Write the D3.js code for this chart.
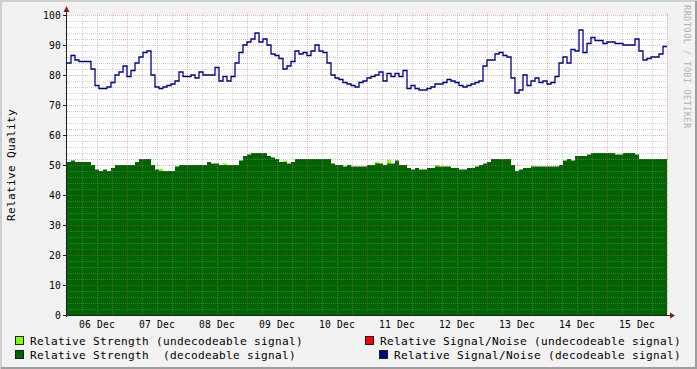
<!DOCTYPE html>
<html>
<head>
<meta charset="utf-8">
<script src="https://d3js.org/d3.v7.min.js"></script>
<style>
  body { margin: 0; background: #f2f2f2; }
  svg { display: block; }
  text { font-family: "DejaVu Sans Mono", monospace; white-space: pre; }
</style>
</head>
<body>
<svg id="chart" width="697" height="369"></svg>
<script>
// tick labels
const dayLabels = ["06 Dec", "07 Dec", "08 Dec", "09 Dec", "10 Dec", "11 Dec", "12 Dec", "13 Dec", "14 Dec", "15 Dec"];
const yTicks = [0, 10, 20, 30, 40, 50, 60, 70, 80, 90, 100];

// relative signal/noise (decodeable), 150 samples over 10 days
const snrDecodeable = [
  84, 86.5, 85, 84.5, 84.5, 84.5, 82, 76.5, 75.5, 75.5, 76, 77.5, 80, 81, 83,
  79.5, 81.5, 84, 86, 87.5, 88, 80, 76, 75.5, 76, 76.5, 77, 78, 81, 79.5,
  79.5, 80, 79, 81, 80, 80, 80, 82.5, 78, 79.5, 78, 79.5, 84, 87.5, 90,
  91, 92, 94, 91, 92, 90, 87, 86.5, 85.5, 82, 83, 84.5, 88, 87, 87.5,
  86.5, 88, 90, 88, 87.5, 84, 80, 79, 78.5, 77.5, 77, 76.5, 76, 77.5, 78,
  79, 79.5, 80, 81, 78, 80.5, 79.5, 80.5, 79.5, 81.5, 75.5, 76.5, 75.5, 75, 75,
  75.5, 76, 77, 77, 77.5, 78.5, 78, 77.5, 76.5, 76, 76.5, 77, 77.5, 78, 83,
  85, 85, 87, 87.5, 86.5, 86, 79, 74, 75, 80, 76.5, 78, 79, 77.5, 78,
  77, 77.5, 79.5, 84, 86, 84, 88.5, 88, 95, 87.5, 90.5, 92.5, 91.5, 91.5, 90.5,
  91, 91, 90.5, 90.5, 90, 90, 90, 92, 88, 85, 85.5, 86, 86, 87, 89.5
];

// relative strength (decodeable)
const strengthDecodeable = [
  51, 51.5, 51, 51, 51, 51, 50, 48.5, 48, 48.5, 48, 49, 50, 50, 50,
  50, 50, 51, 52, 52, 52, 50, 48.5, 48, 48, 48, 48, 49.5, 50, 50,
  50, 50, 50, 50, 50, 51, 50.5, 50.5, 50, 50, 50, 50, 50, 51.5, 53,
  53.5, 54, 54, 54, 54, 53, 52.5, 52, 51, 51, 50.5, 51, 52, 52, 52,
  52, 52, 52, 52, 52, 52, 50.5, 50, 50, 49.5, 50, 49.5, 49.5, 49.5, 49.5,
  50, 50, 50.5, 50.5, 50, 50.5, 50.5, 51.5, 50, 50, 49, 48.5, 49, 48.5, 48.5,
  49, 49, 49.5, 49.5, 49.5, 49.5, 49, 49, 48.5, 48.5, 49, 49, 49.5, 50, 50.5,
  51, 52, 52, 52, 52, 52, 50, 48, 48.5, 49, 49, 49.5, 49.5, 49.5, 49.5,
  49.5, 49.5, 49.5, 50, 51.5, 52, 51.5, 53, 53, 53, 53.5, 54, 54, 54, 54,
  54, 54, 53.5, 53.5, 54, 54, 54, 53.5, 52, 52, 52, 52, 52, 52, 52
];

// relative strength (undecodeable): [sample index, value], only the few samples that show
const strengthUndecodeable = [
  [23, 48.7], [39, 50.5], [54, 51.5], [77, 51], [80, 51.8], [87, 49], [92, 50], [100, 49]
];

const legendLeft = [
  { label: "Relative Strength (undecodeable signal)", color: "#7fff00" },
  { label: "Relative Strength  (decodeable signal)", color: "#006400" }
];
const legendRight = [
  { label: "Relative Signal/Noise (undecodeable signal)", color: "#ff0000" },
  { label: "Relative Signal/Noise (decodeable signal)", color: "#000090" }
];

const W = 697, H = 369;
const plot = { left: 67, right: 667, top: 15, bottom: 315 };
const hours = 240;
const step = hours / snrDecodeable.length;

const x = d3.scaleLinear().domain([0, hours]).range([plot.left, plot.right]);
const y = d3.scaleLinear().domain([0, 100]).range([plot.bottom, plot.top]);

const svg = d3.select("#chart");

// background + 3d frame
svg.append("rect").attr("width", W).attr("height", H).attr("fill", "#f2f2f2");
svg.append("path").attr("d", `M0,${H} V0 H${W}`).attr("fill", "none")
  .attr("stroke", "#cfcfcf").attr("stroke-width", 2).attr("transform", "translate(1,1)");
svg.append("path").attr("d", `M1,${H - 1} H${W - 1} V1`).attr("fill", "none")
  .attr("stroke", "#9e9e9e").attr("stroke-width", 2);

// canvas
svg.append("rect")
  .attr("x", plot.left).attr("y", plot.top)
  .attr("width", plot.right - plot.left).attr("height", plot.bottom - plot.top)
  .attr("fill", "#ffffff");

// data as steps
const pts = arr => arr.map((v, i) => [i * step, v]).concat([[hours, arr[arr.length - 1]]]);

svg.append("g").selectAll("rect").data(strengthUndecodeable).join("rect")
  .attr("x", d => x(d[0] * step))
  .attr("width", d => x((d[0] + 1) * step) - x(d[0] * step))
  .attr("y", d => y(d[1]))
  .attr("height", d => y(0) - y(d[1]))
  .attr("fill", "#7fff00");

const area = d3.area().curve(d3.curveStepAfter)
  .x(d => x(d[0])).y0(y(0)).y1(d => y(d[1]));
svg.append("path").datum(pts(strengthDecodeable))
  .attr("d", area).attr("fill", "#006400");

// grid
const grid = svg.append("g").attr("shape-rendering", "crispEdges");
const minorH = d3.range(0, 101, 2).filter(v => v % 10 !== 0);
const minorV = d3.range(0, hours + 1, 6).filter(h => h % 24 !== 0);
const majorV = d3.range(24, hours + 1, 24);
const minorCol = "rgba(143,143,143,0.42)", majorCol = "rgba(222,79,79,0.42)";

grid.selectAll(".mh").data(minorH).join("line")
  .attr("x1", plot.left - 2).attr("x2", plot.right + 2)
  .attr("y1", d => Math.round(y(d)) + 0.5).attr("y2", d => Math.round(y(d)) + 0.5)
  .attr("stroke", minorCol).attr("stroke-dasharray", "1,1");
grid.selectAll(".mv").data(minorV).join("line")
  .attr("y1", plot.top - 2).attr("y2", plot.bottom + 2)
  .attr("x1", d => Math.round(x(d)) + 0.5).attr("x2", d => Math.round(x(d)) + 0.5)
  .attr("stroke", minorCol).attr("stroke-dasharray", "1,1");
grid.selectAll(".Mh").data(yTicks.filter(v => v > 0)).join("line")
  .attr("x1", plot.left - 2).attr("x2", plot.right + 2)
  .attr("y1", d => Math.round(y(d)) + 0.5).attr("y2", d => Math.round(y(d)) + 0.5)
  .attr("stroke", majorCol).attr("stroke-dasharray", "1,1");
grid.selectAll(".Mv").data(majorV).join("line")
  .attr("y1", plot.top - 2).attr("y2", plot.bottom + 2)
  .attr("x1", d => Math.round(x(d)) + 0.5).attr("x2", d => Math.round(x(d)) + 0.5)
  .attr("stroke", majorCol).attr("stroke-dasharray", "1,1");

// snr line
const line = d3.line().curve(d3.curveStepAfter).x(d => x(d[0])).y(d => y(d[1]));
svg.append("path").datum(pts(snrDecodeable))
  .attr("d", line).attr("fill", "none")
  .attr("stroke", "#000090").attr("stroke-width", 1.3);

// axes
const ax = svg.append("g").attr("shape-rendering", "crispEdges");
ax.append("line").attr("x1", plot.left - 0.5).attr("x2", plot.left - 0.5)
  .attr("y1", plot.bottom + 2).attr("y2", plot.top - 4).attr("stroke", "#1f1f1f");
ax.append("line").attr("x1", plot.left - 3).attr("x2", plot.right + 4)
  .attr("y1", plot.bottom + 0.5).attr("y2", plot.bottom + 0.5).attr("stroke", "#1f1f1f");
ax.selectAll(".yt").data(yTicks).join("line")
  .attr("x1", plot.left - 4).attr("x2", plot.left)
  .attr("y1", d => Math.round(y(d)) + 0.5).attr("y2", d => Math.round(y(d)) + 0.5)
  .attr("stroke", "#1f1f1f");
svg.append("path").attr("d", `M${plot.left - 3.5},${plot.top - 3} L${plot.left - 0.5},${plot.top - 9} L${plot.left + 2.5},${plot.top - 3} Z`)
  .attr("fill", "#801f1f");
svg.append("path").attr("d", `M${plot.right + 3},${plot.bottom - 2.5} L${plot.right + 8},${plot.bottom + 0.5} L${plot.right + 3},${plot.bottom + 3.5} Z`)
  .attr("fill", "#801f1f");

// tick labels
svg.append("g").selectAll("text").data(yTicks).join("text")
  .attr("x", plot.left - 6).attr("y", d => y(d) + 4)
  .attr("text-anchor", "end")
  .style("font-size", "9.7px").style("letter-spacing", "0.16px")
  .text(d => d);

svg.append("g").selectAll("text").data(dayLabels).join("text")
  .attr("x", (d, i) => x(12 + 24 * i)).attr("y", 328)
  .attr("text-anchor", "middle")
  .style("font-size", "9.7px").style("letter-spacing", "0.16px")
  .text(d => d);

// vertical label
svg.append("text")
  .attr("transform", "translate(15,165) rotate(-90)")
  .attr("text-anchor", "middle")
  .style("font-size", "11.1px").style("letter-spacing", "0.32px")
  .text("Relative Quality");

// watermark
svg.append("text")
  .attr("transform", "translate(684,5) rotate(90)")
  .attr("fill", "#b0b0b0")
  .style("font-size", "8.2px").style("letter-spacing", "0.7px")
  .text("RRDTOOL / TOBI OETIKER");

// legend
const legendRows = [345, 359];
const lg = svg.append("g");
legendLeft.forEach((d, i) => {
  lg.append("rect").attr("x", 15.5).attr("y", legendRows[i] - 8.5).attr("width", 8).attr("height", 8)
    .attr("fill", d.color).attr("stroke", "#1f1f1f");
  lg.append("text").attr("x", 30).attr("y", legendRows[i])
    .attr("xml:space", "preserve")
    .style("font-size", "11.1px").style("letter-spacing", "0.32px")
    .text(d.label);
});
legendRight.forEach((d, i) => {
  const t = lg.append("text").attr("x", 681).attr("y", legendRows[i])
    .attr("text-anchor", "end")
    .style("font-size", "11.1px").style("letter-spacing", "0.32px")
    .text(d.label);
  const w = t.node().getComputedTextLength();
  lg.append("rect").attr("x", Math.round(681 - w - 15) + 0.5).attr("y", legendRows[i] - 8.5).attr("width", 8).attr("height", 8)
    .attr("fill", d.color).attr("stroke", "#1f1f1f");
});
</script>
</body>
</html>
